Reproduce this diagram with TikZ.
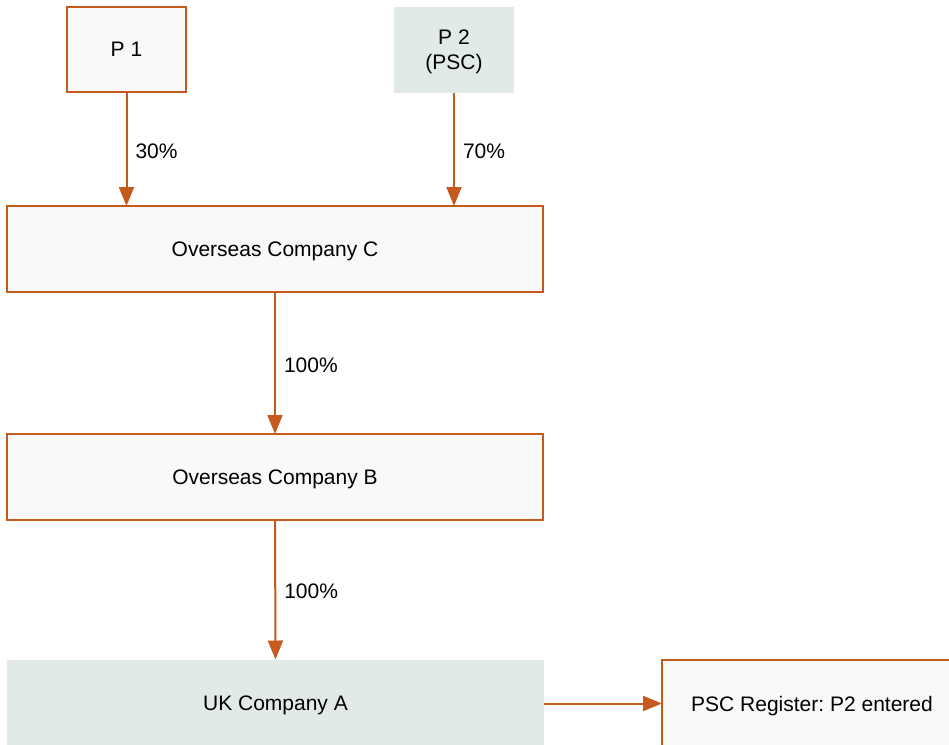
\documentclass[tikz,border=0pt]{standalone}
\usepackage{fontspec}
\setmainfont{Liberation Sans}
\frenchspacing
\usetikzlibrary{arrows.meta}
\definecolor{org}{HTML}{C55A1E}
\definecolor{pale}{HTML}{F9F9F9}
\definecolor{sage}{HTML}{E1EAE7}
\tikzset{
  txt/.style={font=\fontsize{21}{25}\selectfont},
  obox/.style={txt, draw=org, line width=2pt, fill=pale, inner sep=0pt, outer sep=0pt, align=center, text depth=0pt},
  gbox/.style={txt, fill=sage, inner sep=0pt, outer sep=0pt, align=center, text depth=0pt},
  conn/.style={draw=org, line width=2pt, -{Triangle[length=19pt,width=15pt]}},
  pct/.style={txt, right, xshift=6pt, yshift=-2pt, inner sep=2pt}
}
\begin{document}
\begin{tikzpicture}[x=1pt,y=-1pt]
\useasboundingbox (0,0) rectangle (949,744);
\clip (0,0) rectangle (949,744);
\node[obox, minimum width=119pt, minimum height=85pt] (p1) at (126.5,49.5) {P 1};
\node[gbox, minimum width=120pt, minimum height=86pt] (p2) at (454,49.5) {P 2\\(PSC)};
\node[obox, minimum width=536pt, minimum height=86pt] (c) at (275,249) {Overseas Company C};
\node[obox, minimum width=536pt, minimum height=86pt] (b) at (275,477) {Overseas Company B};
\node[gbox, minimum width=537pt, minimum height=88pt] (a) at (275.5,703.5) {UK Company A};
\node[obox, minimum width=300pt, minimum height=88pt] (r) at (812,703.5) {PSC Register: P2 entered};
\draw[conn] (p1.south) -- (p1.south |- c.north) node[pct, midway] {30\%};
\draw[conn] (p2.south) -- (p2.south |- c.north) node[pct, midway] {70\%};
\draw[conn] (c.south) -- (b.north) node[pct, midway] {100\%};
\draw[conn] (b.south) -- (a.north) node[pct, midway] {100\%};
\draw[conn] (a.east) -- (r.west);
\end{tikzpicture}
\end{document}
